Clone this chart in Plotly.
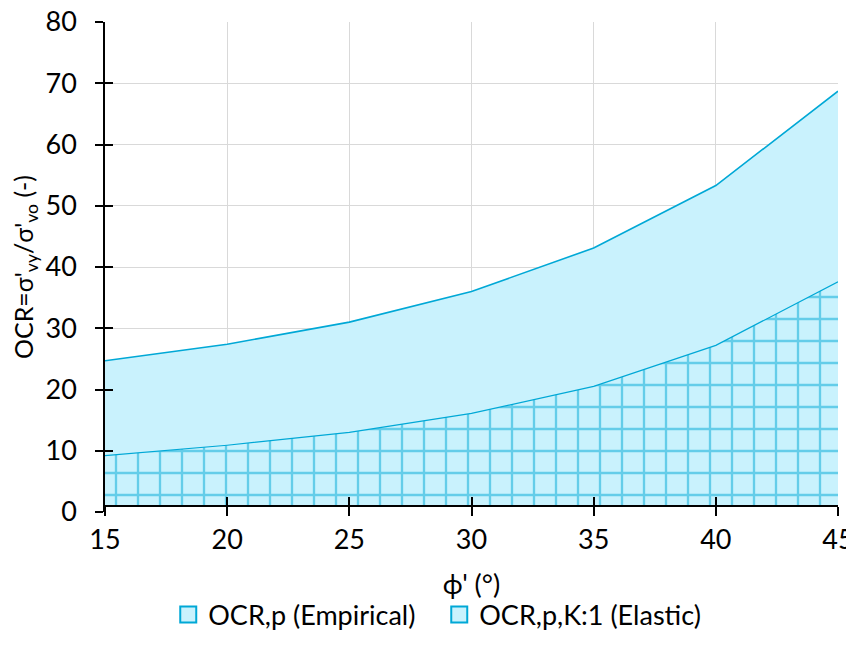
import plotly.graph_objects as go

phi = [15, 20, 25, 30, 35, 40, 45]
ocr_empirical = [24.7, 27.4, 31.0, 36.0, 43.1, 53.3, 68.7]
ocr_elastic = [9.2, 10.9, 13.0, 16.1, 20.5, 27.2, 37.6]
axis_cross = 1.0  # horizontal axis crosses the value axis here

x_ticks = [15, 20, 25, 30, 35, 40, 45]
y_ticks = [0, 10, 20, 30, 40, 50, 60, 70, 80]
names = ["OCR,p (Empirical)", "OCR,p,K:1 (Elastic)"]

LINE = "#00A8D6"
FILL = "#C9F2FD"
FONT = "Lato"
FS = 27
PATTERN = dict(shape="+", size=22, solidity=0.2, fgcolor=LINE, bgcolor=FILL, fillmode="overlay")

fig = go.Figure()
base = [axis_cross] * len(phi)
fig.add_trace(go.Scatter(x=phi, y=base, mode="lines", line=dict(width=0),
                         showlegend=False, hoverinfo="skip"))
fig.add_trace(go.Scatter(x=phi, y=ocr_empirical, mode="lines", name=names[0],
                         fill="tonexty", fillcolor=FILL, showlegend=False,
                         line=dict(color=LINE, width=1.6)))
fig.add_trace(go.Scatter(x=phi, y=base, mode="lines", line=dict(width=0),
                         showlegend=False, hoverinfo="skip"))
fig.add_trace(go.Scatter(x=phi, y=ocr_elastic, mode="lines", name=names[1],
                         fill="tonexty", fillcolor=FILL, showlegend=False,
                         fillpattern=PATTERN,
                         line=dict(color=LINE, width=1.2)))

# legend entries (square swatches)
for nm in names:
    fig.add_trace(go.Scatter(x=[None], y=[None], mode="markers", name=nm,
                             marker=dict(symbol="square", size=16, color=FILL,
                                         line=dict(color=LINE, width=2))))

fig.update_layout(
    width=854, height=646,
    margin=dict(l=97, r=24, t=14, b=142, autoexpand=False),
    paper_bgcolor="white", plot_bgcolor="white",
    font=dict(family=FONT, size=FS, color="#000000"),
    showlegend=True,
    legend=dict(orientation="h", x=0.456, xanchor="center", y=-0.16, yanchor="top",
                font=dict(size=FS), traceorder="normal",
                entrywidth=226, entrywidthmode="pixels"),
    xaxis=dict(range=[15, 45], tickvals=x_ticks, showgrid=True, gridcolor="#D9D9D9",
               gridwidth=1.3, showline=False, ticks="", zeroline=False, automargin=False,
               ticklabeloverflow="allow",
               title=dict(text="ϕ' (°)", font=dict(size=FS), standoff=21),
               ticklabelstandoff=9),
    xaxis2=dict(range=[15, 45], overlaying="x", anchor="free", position=axis_cross / 80,
                showline=True, linecolor="black", linewidth=1.5, tickvals=x_ticks,
                ticks="outside", ticklen=9, tickwidth=1.5, tickcolor="black",
                showticklabels=False, showgrid=False, zeroline=False, automargin=False),
    xaxis3=dict(range=[15, 45], overlaying="x", anchor="free", position=axis_cross / 80,
                showline=False, tickvals=x_ticks,
                ticks="inside", ticklen=9, tickwidth=1.5, tickcolor="black",
                showticklabels=False, showgrid=False, zeroline=False, automargin=False),
    yaxis=dict(range=[0, 80], tickvals=y_ticks, showgrid=True, gridcolor="#D9D9D9",
               gridwidth=1.3, showline=True, linecolor="black", linewidth=1.5,
               ticks="outside", ticklen=8, tickwidth=1.5, tickcolor="black",
               zeroline=False, automargin=False, ticklabelstandoff=13,
               ticklabeloverflow="allow",
               title=dict(text="OCR=σ'<sub>vy</sub>/σ'<sub>vo</sub> (-)", font=dict(size=25),
                          standoff=8)),
    yaxis2=dict(range=[0, 80], overlaying="y", tickvals=y_ticks, showgrid=False,
                ticks="inside", ticklen=8, tickwidth=1.5, tickcolor="black",
                showticklabels=False, zeroline=False, showline=False, automargin=False),
)
# invisible traces to activate overlay axes
fig.add_trace(go.Scatter(x=[phi[0]], y=[None], xaxis="x2", yaxis="y2", showlegend=False,
                         hoverinfo="skip"))
fig.add_trace(go.Scatter(x=[phi[0]], y=[None], xaxis="x3", yaxis="y2", showlegend=False,
                         hoverinfo="skip"))

fig.write_html("out.html")
